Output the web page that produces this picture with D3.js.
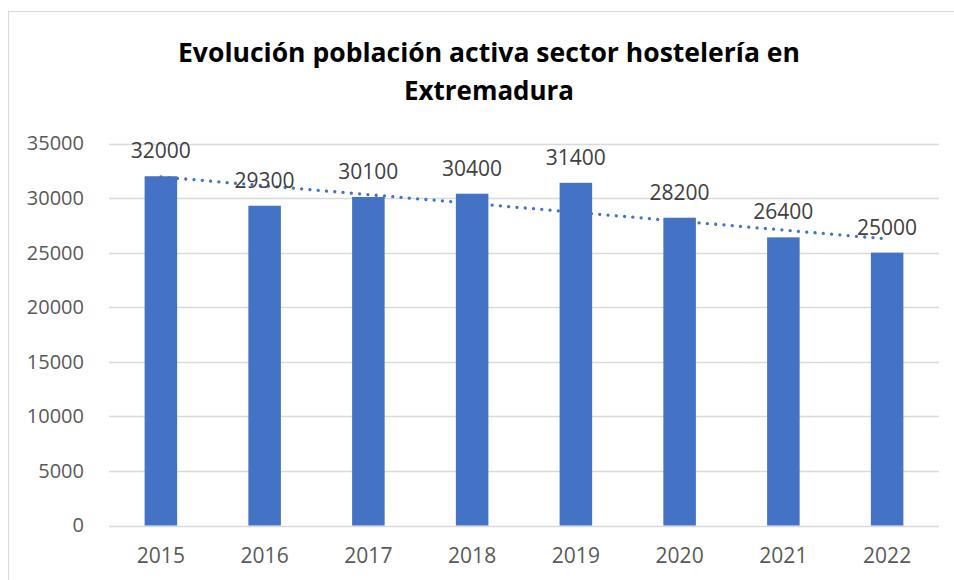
<!DOCTYPE html>
<html>
<head>
<meta charset="utf-8">
<script src="https://cdn.jsdelivr.net/npm/d3@7"></script>
<style>
  body { margin: 0; background: #fff; }
  svg { display: block; font-family: "Open Sans", "Noto Sans", sans-serif; }
</style>
</head>
<body>
<svg></svg>
<script>
var width = 954,
    height = 580;

// data
var years = ["2015", "2016", "2017", "2018", "2019", "2020", "2021", "2022"];
var values = [32000, 29300, 30100, 30400, 31400, 28200, 26400, 25000];
var yTicks = [0, 5000, 10000, 15000, 20000, 25000, 30000, 35000];
var titleLines = ["Evolución población activa sector hostelería en", "Extremadura"];

var svg = d3.select("svg")
    .attr("width", width)
    .attr("height", height);

// chart frame
svg.append("rect")
    .attr("x", 8.5)
    .attr("y", 11.5)
    .attr("width", 1000)
    .attr("height", 600)
    .attr("fill", "#fff")
    .attr("stroke", "#d9d9d9");

var plot = { left: 109, right: 939, top: 143.5, bottom: 525.5 };

var x = d3.scaleBand()
    .domain(years)
    .range([plot.left, plot.right])
    .padding(0);
var y = d3.scaleLinear()
    .domain([0, 35000])
    .range([plot.bottom, plot.top]);

var barW = x.bandwidth() / 3.19; // gap width ~219%

// title
svg.selectAll("text.title")
    .data(titleLines)
    .enter()
    .append("text")
    .attr("class", "title")
    .attr("x", 489)
    .attr("y", (d, i) => 62 + i * 38)
    .attr("text-anchor", "middle")
    .attr("font-size", 27)
    .attr("font-weight", "bold")
    .attr("fill", "#000")
    .attr("textLength", (d, i) => i == 0 ? 622 : 170)
    .attr("lengthAdjust", "spacingAndGlyphs")
    .text(d => d);

// gridlines
svg.append("g")
    .selectAll("line")
    .data(yTicks)
    .enter()
    .append("line")
    .attr("x1", plot.left)
    .attr("x2", plot.right)
    .attr("y1", d => Math.round(y(d)) + 0.5)
    .attr("y2", d => Math.round(y(d)) + 0.5)
    .attr("stroke", "#d9d9d9")
    .attr("stroke-width", 1.3);

// y axis labels
var yAxis = d3.axisLeft(y).tickValues(yTicks).tickSize(0).tickPadding(0).tickFormat(d3.format("d"));
svg.append("g")
    .attr("transform", "translate(84,0)")
    .call(yAxis)
    .call(g => g.select(".domain").remove())
    .selectAll("text")
    .attr("font-size", 20)
    .attr("font-family", "Open Sans, sans-serif")
    .attr("fill", "#595959");

// x axis labels
var xAxis = d3.axisBottom(x).tickSize(0).tickPadding(0);
svg.append("g")
    .attr("transform", "translate(0,548)")
    .call(xAxis)
    .call(g => g.select(".domain").remove())
    .selectAll("text")
    .attr("font-size", 21)
    .attr("font-family", "Open Sans, sans-serif")
    .attr("fill", "#595959");

// bars
svg.append("g")
    .selectAll("rect")
    .data(values)
    .enter()
    .append("rect")
    .attr("x", (d, i) => x(years[i]) + x.bandwidth() / 2 - barW / 2)
    .attr("y", d => y(d))
    .attr("width", barW)
    .attr("height", d => y(0) - y(d))
    .attr("fill", "#4472c4");

// linear trendline (least squares over the data)
var n = values.length,
    mx = d3.mean(d3.range(n)),
    my = d3.mean(values);
var slope = d3.sum(values, (d, i) => (i - mx) * (d - my)) / d3.sum(d3.range(n), i => (i - mx) * (i - mx));
var icpt = my - slope * mx;
var trend = [0, n - 1].map(i => [x(years[i]) + x.bandwidth() / 2, y(icpt + slope * i)]);

svg.append("path")
    .attr("d", d3.line()(trend))
    .attr("fill", "none")
    .attr("stroke", "#4472c4")
    .attr("stroke-width", 3.3)
    .attr("stroke-linecap", "round")
    .attr("stroke-dasharray", "0.01 8.3");

// data labels
svg.append("g")
    .selectAll("text")
    .data(values)
    .enter()
    .append("text")
    .attr("x", (d, i) => x(years[i]) + x.bandwidth() / 2)
    .attr("y", d => y(d) - 18)
    .attr("text-anchor", "middle")
    .attr("font-size", 21)
    .attr("fill", "#404040")
    .text(d => d);
</script>
</body>
</html>
